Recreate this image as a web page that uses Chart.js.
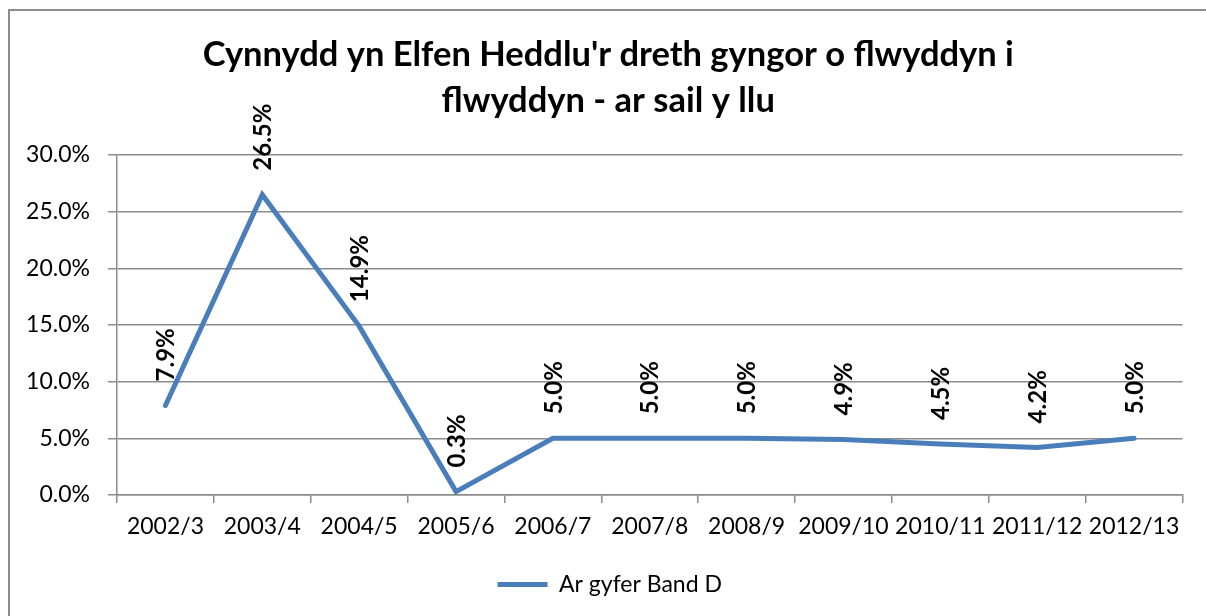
<!DOCTYPE html>
<html>
<head>
<meta charset="utf-8">
<script src="https://cdn.jsdelivr.net/npm/chart.js@4/dist/chart.umd.min.js"></script>
<style>
  html, body { margin: 0; padding: 0; background: #ffffff; overflow: hidden; }
  #wrap { position: relative; width: 1206px; height: 616px; }
  #frame { position: absolute; left: 8px; top: 9px; width: 1220px; height: 640px;
           border: 2px solid #8c8c8c; box-sizing: border-box; pointer-events: none; }
  canvas { position: absolute; left: 0; top: 0; }
</style>
</head>
<body>
<div id="wrap">
  <canvas id="c" width="1206" height="616"></canvas>
  <div id="frame"></div>
</div>
<script>
const categories = ["2002/3","2003/4","2004/5","2005/6","2006/7","2007/8","2008/9","2009/10","2010/11","2011/12","2012/13"];
const bandD = [7.9, 26.5, 14.9, 0.3, 5.0, 5.0, 5.0, 4.9, 4.5, 4.2, 5.0];
const seriesName = "Ar gyfer Band D";
const titleLines = ["Cynnydd yn Elfen Heddlu'r dreth gyngor o flwyddyn i", "flwyddyn - ar sail y llu"];
const yTicks = [0, 5, 10, 15, 20, 25, 30];

const FONT = "Lato, 'Open Sans', sans-serif";

const dataLabels = {
  id: 'dataLabels',
  afterDatasetsDraw(chart) {
    const ctx = chart.ctx;
    const meta = chart.getDatasetMeta(0);
    const vals = chart.data.datasets[0].data;
    ctx.save();
    ctx.fillStyle = '#000';
    ctx.font = "bold 24px " + FONT;
    ctx.textAlign = 'left';
    ctx.textBaseline = 'middle';
    meta.data.forEach((pt, i) => {
      ctx.save();
      ctx.translate(pt.x + 1, pt.y - 24);
      ctx.rotate(-Math.PI / 2);
      ctx.fillText(vals[i].toFixed(1) + '%', 0, 0);
      ctx.restore();
    });
    ctx.restore();
  }
};

const shiftBlocks = {
  id: 'shiftBlocks',
  afterLayout(chart) {
    if (chart.titleBlock) { chart.titleBlock.left += 14; }
    if (chart.legend) { chart.legend.left += 17; }
  }
};

new Chart(document.getElementById('c'), {
  type: 'line',
  data: {
    labels: categories,
    datasets: [{
      label: seriesName,
      data: bandD,
      borderColor: '#4a7ebb',
      backgroundColor: '#4a7ebb',
      borderWidth: 5,
      borderCapStyle: 'round',
      borderJoinStyle: 'miter',
      pointRadius: 0,
      pointHoverRadius: 0,
      tension: 0,
      fill: false
    }]
  },
  options: {
    responsive: false,
    animation: false,
    events: [],
    layout: { padding: { left: 20, right: 23.5, top: 0, bottom: 10 } },
    plugins: {
      title: {
        display: true,
        text: titleLines,
        color: '#000',
        font: { family: FONT, size: 34.5, weight: 'bold', lineHeight: '46px' },
        padding: { top: 32, bottom: 31 }
      },
      legend: {
        display: true,
        position: 'bottom',
        labels: {
          color: '#000',
          font: { family: FONT, size: 23 },
          boxWidth: 50,
          boxHeight: 0,
          padding: 10
        }
      },
      tooltip: { enabled: false }
    },
    scales: {
      x: {
        offset: true,
        grid: { display: true, drawOnChartArea: false, drawTicks: true, tickLength: 8, offset: true, color: '#8c8c8c', lineWidth: 1.5 },
        border: { display: true, color: '#8c8c8c', width: 1.5 },
        ticks: { color: '#000', font: { family: FONT, size: 23 }, padding: 10, maxRotation: 0, autoSkip: false },
        afterFit(scale) { scale.height = 68; }
      },
      y: {
        min: 0, max: 30,
        afterBuildTicks(scale) { scale.ticks = yTicks.map(v => ({ value: v })); },
        grid: { color: '#8c8c8c', lineWidth: 1.5, tickLength: 9, drawTicks: true },
        border: { display: true, color: '#8c8c8c', width: 1.5 },
        ticks: { color: '#000', font: { family: FONT, size: 23 }, padding: 18,
                 callback: v => Number(v).toFixed(1) + '%' },
        afterFit(scale) { scale.width = 97; }
      }
    }
  },
  plugins: [dataLabels, shiftBlocks]
});
</script>
</body>
</html>
